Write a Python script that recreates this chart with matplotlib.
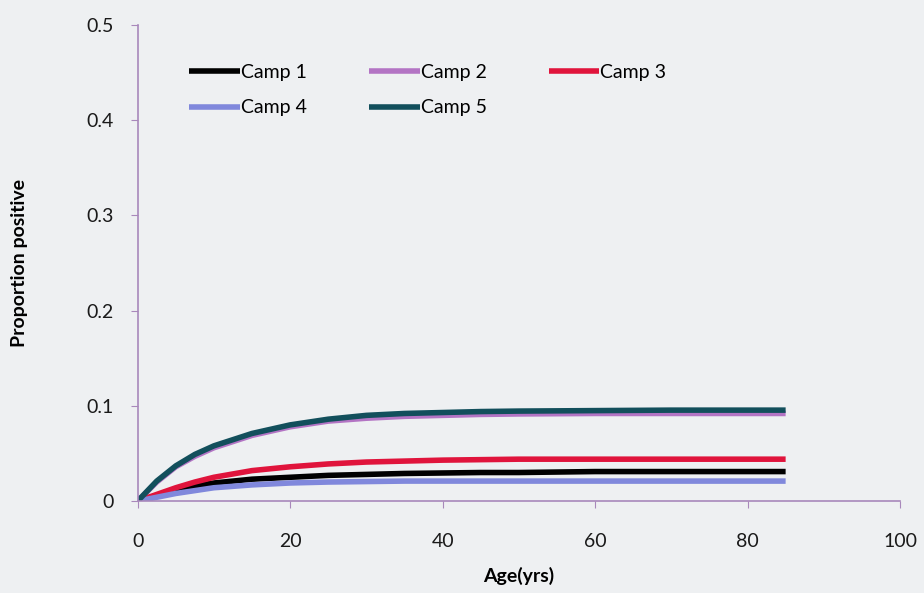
import matplotlib.pyplot as plt

# ages (yrs) and proportion positive
age = [0, 2.5, 5, 7.5, 10, 15, 20, 25, 30, 35, 40, 45, 50, 60, 70, 85]
camp1 = [0, 0.006, 0.011, 0.016, 0.019, 0.023, 0.025, 0.027, 0.028, 0.029, 0.0295, 0.030, 0.030, 0.031, 0.031, 0.031]
camp2 = [0, 0.020, 0.036, 0.047, 0.056, 0.069, 0.078, 0.084, 0.087, 0.089, 0.090, 0.091, 0.0915, 0.092, 0.092, 0.092]
camp3 = [0, 0.007, 0.014, 0.020, 0.025, 0.032, 0.036, 0.039, 0.041, 0.042, 0.043, 0.0435, 0.044, 0.044, 0.044, 0.044]
camp4 = [0, 0.004, 0.008, 0.011, 0.014, 0.017, 0.019, 0.020, 0.0205, 0.021, 0.021, 0.021, 0.021, 0.021, 0.021, 0.021]
camp5 = [0, 0.021, 0.037, 0.049, 0.058, 0.071, 0.080, 0.086, 0.090, 0.092, 0.093, 0.094, 0.0945, 0.095, 0.0955, 0.0955]
names = ['Camp 1', 'Camp 2', 'Camp 3', 'Camp 4', 'Camp 5']
colors = ['#000000', '#b374c4', '#e0143c', '#8088dc', '#124f5c']

plt.rcParams['font.family'] = ['Lato', 'DejaVu Sans']
bg = '#eef0f2'
axcol = '#a888bb'

fig = plt.figure(figsize=(9.24, 5.93), dpi=100, facecolor=bg)
ax = fig.add_axes([0.149, 0.155, 0.825, 0.803])
ax.set_facecolor(bg)

lines = []
for y, n, c in zip([camp1, camp2, camp3, camp4, camp5], names, colors):
    l, = ax.plot(age, y, color=c, lw=4, label=n, solid_capstyle='butt')
    lines.append(l)

ax.set_xlim(0, 100)
ax.set_ylim(0, 0.5)
ax.set_xticks([0, 20, 40, 60, 80, 100])
ax.set_yticks([0, 0.1, 0.2, 0.3, 0.4, 0.5])
ax.set_yticklabels(['0', '0.1', '0.2', '0.3', '0.4', '0.5'])
for s in ['top', 'right']:
    ax.spines[s].set_visible(False)
for s in ['left', 'bottom']:
    ax.spines[s].set_color(axcol)
    ax.spines[s].set_linewidth(1.2)
ax.tick_params(direction='out', length=5, color=axcol, labelsize=14, labelcolor='#1a1a1a')
ax.tick_params(axis='x', pad=18)
ax.tick_params(axis='y', pad=12)

ax.set_xlabel('Age(yrs)', fontsize=14, fontweight='bold', labelpad=12)
ax.set_ylabel('Proportion positive', fontsize=14, fontweight='bold', labelpad=42)

# legend rows: Camp1 Camp2 Camp3 / Camp4 Camp5
order = [0, 3, 1, 4, 2]
ax.legend([lines[i] for i in order], [names[i] for i in order], ncol=3,
          loc='upper left', bbox_to_anchor=(0.045, 0.955), frameon=False,
          fontsize=14, handlelength=2.6, handletextpad=0.05,
          columnspacing=3.2, labelspacing=0.95)

fig.savefig('out.png', dpi=100, facecolor=bg)
